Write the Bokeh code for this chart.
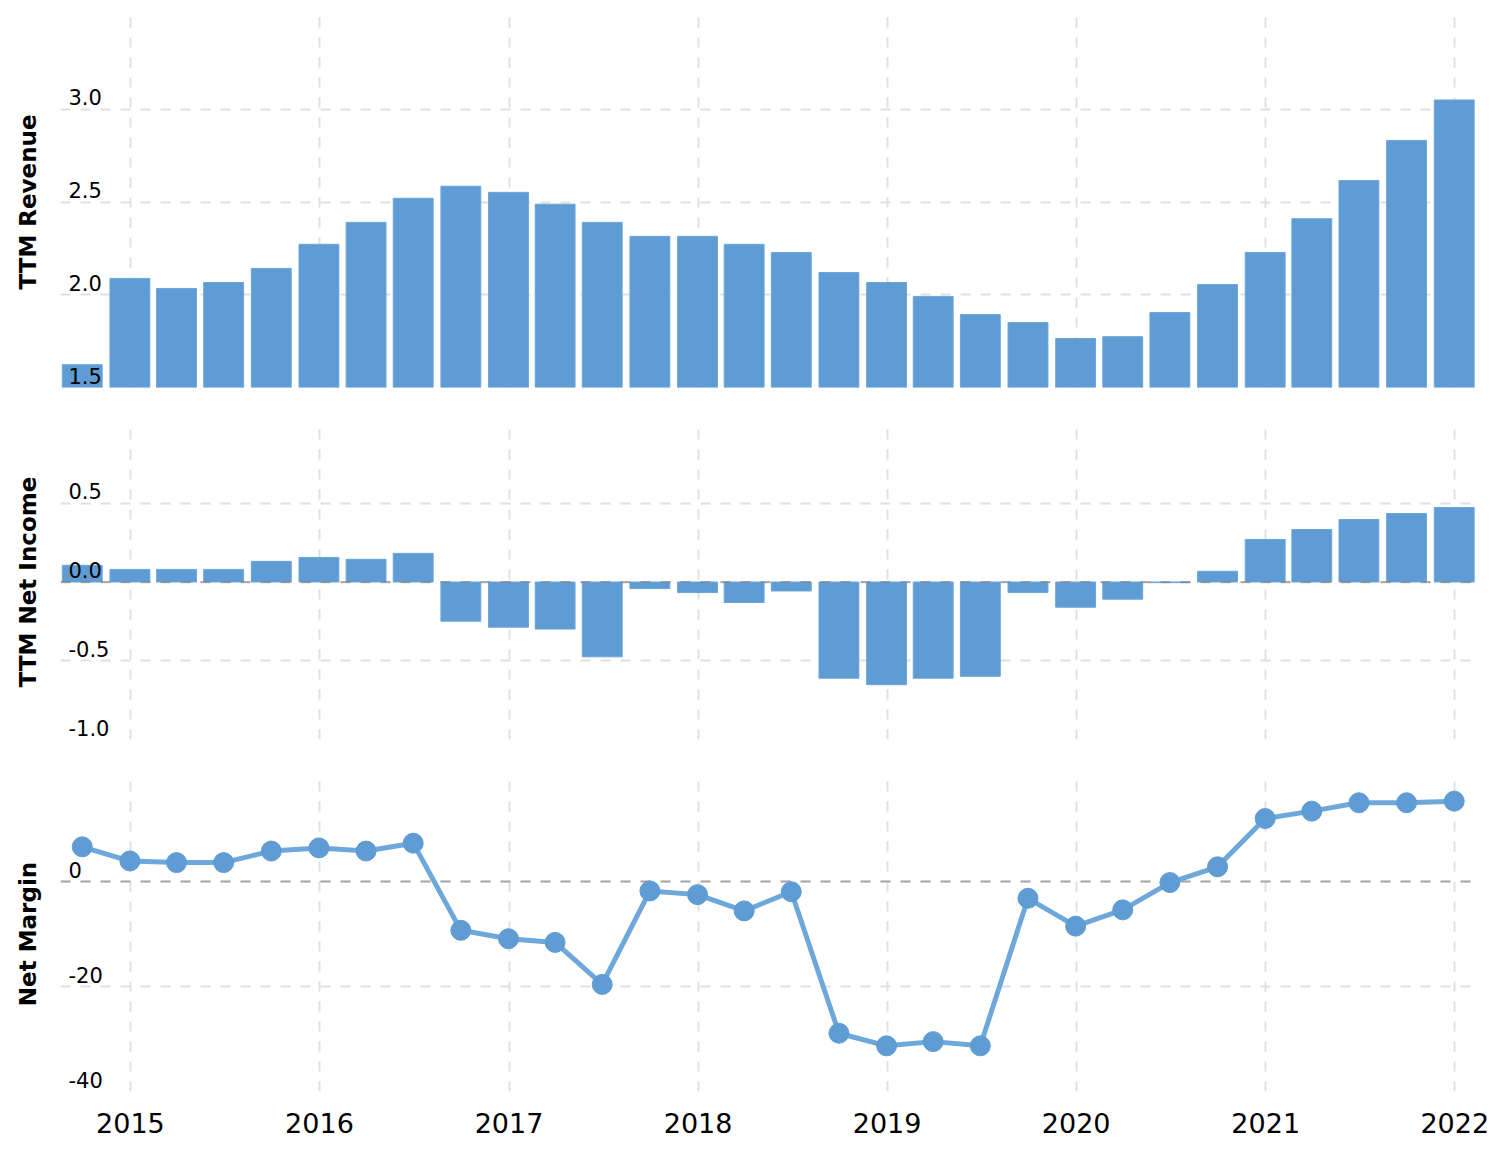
import pandas as pd
from bokeh.plotting import figure
from bokeh.layouts import column
from bokeh.models import Range1d, FixedTicker, Span, DatetimeTickFormatter
from bokeh.core.properties import value
from bokeh.embed import file_html
from bokeh.resources import INLINE

# ---------------- data ----------------
quarters = [
    "2014-09-30", "2014-12-31", "2015-03-31", "2015-06-30", "2015-09-30",
    "2015-12-31", "2016-03-31", "2016-06-30", "2016-09-30", "2016-12-31",
    "2017-03-31", "2017-06-30", "2017-09-30", "2017-12-31", "2018-03-31",
    "2018-06-30", "2018-09-30", "2018-12-31", "2019-03-31", "2019-06-30",
    "2019-09-30", "2019-12-31", "2020-03-31", "2020-06-30", "2020-09-30",
    "2020-12-31", "2021-03-31", "2021-06-30", "2021-09-30", "2021-12-31",
]
revenue = [
    1.623, 2.088, 2.034, 2.066, 2.142, 2.272, 2.390, 2.520, 2.585, 2.552,
    2.488, 2.390, 2.315, 2.315, 2.272, 2.228, 2.120, 2.066, 1.991, 1.893,
    1.850, 1.764, 1.774, 1.904, 2.055, 2.228, 2.410, 2.616, 2.832, 3.050,
]
net_income = [
    0.106, 0.080, 0.080, 0.080, 0.131, 0.156, 0.144, 0.182, -0.249, -0.287,
    -0.299, -0.475, -0.042, -0.067, -0.130, -0.057, -0.611, -0.652, -0.611, -0.599,
    -0.067, -0.160, -0.109, -0.004, 0.068, 0.270, 0.333, 0.397, 0.435, 0.473,
]
net_margin = [
    6.6, 3.9, 3.6, 3.6, 5.8, 6.4, 5.8, 7.3, -9.3, -10.9,
    -11.6, -19.6, -1.8, -2.5, -5.6, -1.95, -28.9, -31.3, -30.5, -31.3,
    -3.2, -8.5, -5.4, -0.2, 2.8, 12.0, 13.4, 15.0, 15.0, 15.3,
]
year_ticks = [2015, 2016, 2017, 2018, 2019, 2020, 2021, 2022]

rev_ticks = [1.5, 2.0, 2.5, 3.0, 3.5]
rev_labels = ["1.5", "2.0", "2.5", "3.0"]
ni_ticks = [-1.0, -0.5, 0.0, 0.5, 1.0]
ni_labels = ["-1.0", "-0.5", "0.0", "0.5"]
nm_ticks = [-40, -20, 0, 20]
nm_labels = ["-40", "-20", "0"]

# ---------------- styling ----------------
FONT = "DejaVu Sans"
BAR_FILL = "#5f9cd3"
BAR_LINE = "#6aa6dc"
LINE_COL = "#6ea8db"
GRID_COL = "#e0e0e0"

dates = pd.to_datetime(quarters)
year_ms = [pd.Timestamp(f"{y}-01-01").value / 1e6 for y in year_ticks]
x_start = pd.Timestamp("2014-08-19")
x_end = pd.Timestamp("2022-02-12")
x_range = Range1d(start=x_start, end=x_end)
bar_width = 77 * 24 * 3600 * 1000


def make_fig(height, top, bottom, y0, y1, yticks, title):
    p = figure(width=1504, height=height, x_axis_type="datetime",
               x_range=x_range, y_range=Range1d(y0, y1),
               output_backend="svg", toolbar_location=None,
               min_border_left=60, min_border_right=28,
               min_border_top=top, min_border_bottom=bottom)
    p.outline_line_color = None
    p.background_fill_color = "white"
    p.border_fill_color = "white"
    p.xaxis.ticker = FixedTicker(ticks=year_ms)
    p.xgrid.ticker = FixedTicker(ticks=year_ms)
    p.yaxis.ticker = FixedTicker(ticks=[])
    p.ygrid.ticker = FixedTicker(ticks=yticks)
    for g in (p.xgrid, p.ygrid):
        g.grid_line_color = GRID_COL
        g.grid_line_width = 2
        g.grid_line_dash = "10 10"
    ax = p.yaxis[0]
    ax.axis_label = title
    ax.axis_label_text_font = FONT
    ax.axis_label_text_font_style = "bold"
    ax.axis_label_text_font_size = "23px"
    ax.axis_label_text_color = "black"
    ax.axis_label_standoff = 20
    ax.major_tick_line_color = None
    ax.minor_tick_line_color = None
    ax.axis_line_color = None
    ax.major_tick_out = 0
    ax.major_tick_in = 0
    return p


def add_tick_text(p, ticks, labels):
    p.text(x=[x_start] * len(labels), y=ticks[:len(labels)], text=labels,
           x_offset=8, y_offset=-4, text_align="left", text_baseline="bottom",
           text_font=value(FONT), text_font_size="21px", text_color="black")


# ---------- top: revenue ----------
p1 = make_fig(406, 16, 19, rev_ticks[0], rev_ticks[-1], rev_ticks, "TTM Revenue")
p1.vbar(x=dates, top=revenue, bottom=rev_ticks[0], width=bar_width,
        fill_color=BAR_FILL, line_color=BAR_LINE, line_width=1)
add_tick_text(p1, rev_ticks, rev_labels)
p1.xaxis.visible = False

# ---------- middle: net income ----------
p2 = make_fig(352, 18, 19, ni_ticks[0], ni_ticks[-1], ni_ticks, "TTM Net Income")
p2.vbar(x=dates, top=net_income, bottom=0, width=bar_width,
        fill_color=BAR_FILL, line_color=BAR_LINE, line_width=1)
p2.add_layout(Span(location=0, dimension="width", line_color="#808080",
                   line_alpha=0.6, line_width=2, line_dash="10 10"))
add_tick_text(p2, ni_ticks, ni_labels)
p2.xaxis.visible = False

# ---------- bottom: net margin ----------
p3 = make_fig(397, 18, 64, nm_ticks[0], nm_ticks[-1], nm_ticks, "Net Margin")
p3.add_layout(Span(location=0, dimension="width", line_color="#808080",
                   line_alpha=0.6, line_width=2, line_dash="10 10",
                   level="underlay"))
p3.line(x=dates, y=net_margin, line_color=LINE_COL, line_width=5)
p3.scatter(x=dates, y=net_margin, size=20, fill_color=BAR_FILL,
           line_color=BAR_FILL)
add_tick_text(p3, nm_ticks, nm_labels)
xa = p3.xaxis[0]
xa.formatter = DatetimeTickFormatter(years="%Y", months="%Y", days="%Y",
                                     hours="%Y", minutes="%Y")
xa.major_label_text_font = FONT
xa.major_label_text_font_size = "27px"
xa.major_label_text_color = "black"
xa.major_tick_line_color = None
xa.minor_tick_line_color = None
xa.axis_line_color = None
xa.major_tick_out = 0
xa.major_tick_in = 0
xa.major_label_standoff = 21

layout = column(p1, p2, p3, spacing=0)
open("out.html", "w").write(file_html(layout, INLINE))
